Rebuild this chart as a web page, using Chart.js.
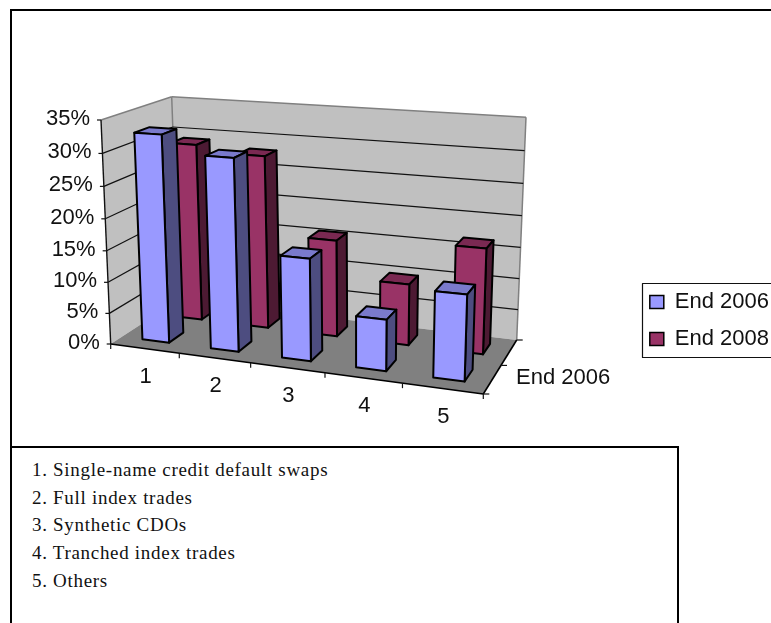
<!DOCTYPE html>
<html>
<head>
<meta charset="utf-8">
<title>CDS market shares</title>
<script src="https://cdn.jsdelivr.net/npm/chart.js@4/dist/chart.umd.min.js"></script>
<style>
html, body { margin: 0; padding: 0; background: #fff; width: 771px; height: 623px; overflow: hidden; }
#chart { position: absolute; left: 0; top: 0; }
#top_frame { position: absolute; left: 10px; top: 9px; width: 800px; height: 438px; border: 2px solid #000; border-bottom: none; }
#notes { position: absolute; left: 10px; top: 446px; width: 665px; height: 220px; border: 2px solid #000; background: #fff;
    font-family: "Liberation Serif", serif; font-size: 19px; letter-spacing: 0.7px; color: #111; }
#notes div { position: absolute; left: 20px; white-space: pre; }
</style>
</head>
<body>
<div id="top_frame"></div>
<canvas id="chart" width="771" height="623"></canvas>
<div id="notes"></div>
<script>
// data
const categories = ["1", "2", "3", "4", "5"]
const end2006 = [32.7, 30, 15.9, 7.9, 13]
const end2008 = [29, 28, 15.6, 9.8, 16.6]
const percentTicks = [0, 5, 10, 15, 20, 25, 30, 35]
const depthLabel = "End 2006"
const noteLines = [
    "1. Single-name credit default swaps",
    "2. Full index trades",
    "3. Synthetic CDOs",
    "4. Tranched index trades",
    "5. Others"
]

// screen corners of the 3d box, floor and top, as [x, y]
const FLOOR = [[110.7, 344], [483.3, 394], [516.7, 340], [178.9, 299.8]]
const ROOF = [[101, 120], [492, 146.5], [526, 117.3], [171.7, 96.7]]
const V_BEND = 0.95
// front and back of the two rows of bars, 0 = front of floor, 1 = back wall
const ROW_DEPTH = [[0.155, 0.365], [0.655, 0.865]]

const LABEL_FONT = "22px 'Liberation Sans'"
const COLORS = [
    {front: "#9999FF", side: "#4D4D80", top: "#7A7ACC"},
    {front: "#993366", side: "#4D1A33", top: "#7A2952"}
]

// maps the unit square onto a quad
function makeQuad(q) {
    var dx1 = q[1][0] - q[2][0], dx2 = q[3][0] - q[2][0], sx = q[0][0] - q[1][0] + q[2][0] - q[3][0]
    var dy1 = q[1][1] - q[2][1], dy2 = q[3][1] - q[2][1], sy = q[0][1] - q[1][1] + q[2][1] - q[3][1]
    var den = dx1 * dy2 - dx2 * dy1
    var g = (sx * dy2 - dx2 * sy) / den
    var h = (dx1 * sy - sx * dy1) / den
    var a = q[1][0] - q[0][0] + g * q[1][0], b = q[3][0] - q[0][0] + h * q[3][0]
    var d = q[1][1] - q[0][1] + g * q[1][1], e = q[3][1] - q[0][1] + h * q[3][1]
    return function(u, w) {
        var k = g * u + h * w + 1
        return [(a * u + b * w + q[0][0]) / k, (d * u + e * w + q[0][1]) / k]
    }
}

const floorAt = makeQuad(FLOOR)
const roofAt = makeQuad(ROOF)

function project(u, v, w) {
    var p0 = floorAt(u, w)
    var p1 = roofAt(u, w)
    var t = v * V_BEND / ((1 - v) + v * V_BEND)
    return [p0[0] + (p1[0] - p0[0]) * t, p0[1] + (p1[1] - p0[1]) * t]
}

function poly(ctx, pts, fill, stroke, lw) {
    ctx.beginPath()
    ctx.moveTo(pts[0][0], pts[0][1])
    for(var i = 1; i < pts.length; i ++) {
        ctx.lineTo(pts[i][0], pts[i][1])
    }
    ctx.closePath()
    if(fill) {
        ctx.fillStyle = fill
        ctx.fill()
    }
    if(stroke) {
        ctx.strokeStyle = stroke
        ctx.lineWidth = lw
        ctx.lineJoin = "round"
        ctx.stroke()
    }
}

function line(ctx, a, b, color, lw) {
    ctx.beginPath()
    ctx.moveTo(a[0], a[1])
    ctx.lineTo(b[0], b[1])
    ctx.strokeStyle = color
    ctx.lineWidth = lw
    ctx.stroke()
}

// walls, floor, grid and axes
function drawBox(chart) {
    var ctx = chart.ctx
    var area = chart.chartArea
    var xs = chart.scales.x
    var ys = chart.scales.y
    var GREY = "#808080"

    ctx.save()
    poly(ctx, [project(0, 0, 0), project(0, 1, 0), project(0, 1, 1), project(0, 0, 1)], "#C0C0C0")
    poly(ctx, [project(0, 0, 1), project(0, 1, 1), project(1, 1, 1), project(1, 0, 1)], "#C0C0C0")
    poly(ctx, [project(0, 0, 0), project(1, 0, 0), project(1, 0, 1), project(0, 0, 1)], GREY)

    line(ctx, project(0, 1, 0), project(0, 1, 1), GREY, 1.5)
    line(ctx, project(0, 1, 1), project(1, 1, 1), GREY, 1.5)
    line(ctx, project(0, 1, 1), project(0, 0, 1), GREY, 1.5)
    line(ctx, project(1, 1, 1), project(1, 0, 1), GREY, 1.5)

    ctx.font = LABEL_FONT
    ctx.fillStyle = "#111"
    ctx.textBaseline = "middle"
    for(var i = 0; i < percentTicks.length; i ++) {
        var val = percentTicks[i]
        var v = (area.bottom - ys.getPixelForValue(val)) / area.height
        var p = project(0, v, 0)
        if(val > 0 && val < percentTicks[percentTicks.length - 1]) {
            line(ctx, p, project(0, v, 1), "#111", 1.2)
            line(ctx, project(0, v, 1), project(1, v, 1), "#111", 1.2)
        }
        line(ctx, p, [p[0] - 4, p[1]], "#111", 1.2)
        ctx.textAlign = "right"
        ctx.fillText(val + "%", p[0] - 11, p[1] - 1)
    }

    line(ctx, project(0, 1, 0), project(0, 0, 0), "#111", 1.4)
    line(ctx, project(0, 0, 0), project(1, 0, 0), "#000", 1.6)
    line(ctx, project(1, 0, 0), project(1, 0, 1), "#000", 1.6)

    // category ticks sit between the bars
    for(var i = 0; i <= categories.length; i ++) {
        var p = project(i / categories.length, 0, 0)
        line(ctx, p, [p[0], p[1] + 5], "#111", 1.2)
    }
    ctx.textAlign = "center"
    for(var i = 0; i < categories.length; i ++) {
        var u = (xs.getPixelForValue(i) - area.left) / area.width
        var p = project(u, 0, 0)
        ctx.fillText(categories[i], p[0] + 1, p[1] + 28)
    }

    // depth axis
    for(var i = 0; i <= 2; i ++) {
        var p = project(1, 0, i / 2)
        line(ctx, p, [p[0] + 6, p[1]], "#111", 1.2)
    }
    ctx.textAlign = "left"
    ctx.fillText(depthLabel, 516, 378)
    ctx.restore()
}

// one bar, projected
function drawBar(chart, bar, row) {
    var ctx = chart.ctx
    var area = chart.chartArea
    var c = COLORS[row]
    var u0 = (bar.x - bar.width / 2 - area.left) / area.width
    var u1 = (bar.x + bar.width / 2 - area.left) / area.width
    var v = (area.bottom - bar.y) / area.height
    var w0 = ROW_DEPTH[row][0]
    var w1 = ROW_DEPTH[row][1]
    var LW = 2

    poly(ctx, [project(u0, v, w0), project(u1, v, w0), project(u1, v, w1), project(u0, v, w1)], c.top, "#000", LW)
    poly(ctx, [project(u1, 0, w0), project(u1, v, w0), project(u1, v, w1), project(u1, 0, w1)], c.side, "#000", LW)
    poly(ctx, [project(u0, 0, w0), project(u1, 0, w0), project(u1, v, w0), project(u0, v, w0)], c.front, "#000", LW)
}

const box3d = {
    id: "box3d",
    beforeDatasetsDraw: function(chart) {
        drawBox(chart)
    },
    // the flat bars are replaced by their 3d version
    beforeDatasetDraw: function(chart, args) {
        var row = args.index
        args.meta.data.forEach(function(bar) {
            drawBar(chart, bar, row)
        })
        return false
    },
    afterDraw: function(chart) {
        // legend frame, runs off the right of the picture
        var ctx = chart.ctx
        ctx.save()
        ctx.strokeStyle = "#111"
        ctx.lineWidth = 1.2
        ctx.strokeRect(642.5, 283.5, 140, 74)
        ctx.restore()
    }
}

const chart = new Chart(document.getElementById("chart"), {
    type: "bar",
    data: {
        labels: categories,
        datasets: [
            {label: "End 2006", data: end2006, backgroundColor: COLORS[0].front, borderColor: "#000", borderWidth: 1.5},
            {label: "End 2008", data: end2008, backgroundColor: COLORS[1].front, borderColor: "#000", borderWidth: 1.5}
        ]
    },
    options: {
        responsive: false,
        animation: false,
        layout: {padding: {top: 18, right: -8}},
        barPercentage: 0.395,
        categoryPercentage: 1,
        scales: {
            x: {display: false, stacked: true},
            y: {display: false, min: 0, max: 35}
        },
        plugins: {
            title: {display: false},
            tooltip: {enabled: false},
            legend: {
                display: true,
                position: "right",
                labels: {
                    boxWidth: 14,
                    boxHeight: 13,
                    padding: 15,
                    color: "#111",
                    font: {family: "Liberation Sans", size: 22}
                }
            }
        }
    },
    plugins: [box3d]
})

var html = ""
for(var i = 0; i < noteLines.length; i ++) {
    html += "<div style='top:" + (11 + i * 27.7) + "px'>" + noteLines[i] + "</div>"
}
document.getElementById("notes").innerHTML = html
</script>
</body>
</html>
